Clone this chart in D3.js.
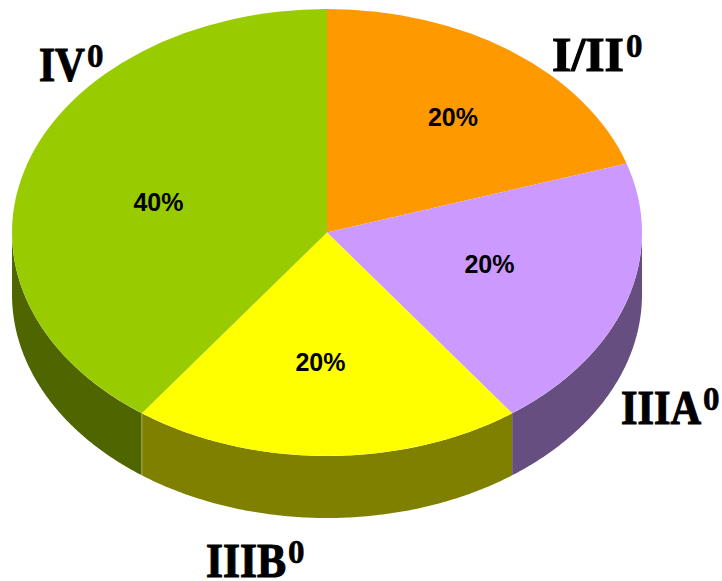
<!DOCTYPE html>
<html>
<head>
<meta charset="utf-8">
<script src="https://cdn.jsdelivr.net/npm/d3@7"></script>
<style>
  html, body { margin: 0; padding: 0; background: #fff; }
  svg { display: block; }
</style>
</head>
<body>
<svg id="chart" width="722" height="581"></svg>
<script>
// Stage shares, clockwise from twelve o'clock
const stages = ["I/II", "IIIA", "IIIB", "IV"];
const shares = [20, 20, 20, 40];
const superscripts = ["0", "0", "0", "0"];
const topColors = ["#ff9900", "#cc99ff", "#ffff00", "#99cc00"];
const wallColors = ["#805000", "#664e80", "#808000", "#4f6600"];

// Disc geometry for the tilted pie
const cx = 327, cy = 232.5, rx = 315, ry = 223.5, depth = 62;

// Text anchors and the widths the stage names are fitted to
const percentAt = [[453, 126], [489.5, 273], [320.5, 371], [158.5, 211]];
const stageAt = [[552, 71], [621, 424], [206, 577], [39, 81]];
const stageWidths = [72, 80, 80, 46];

const svg = d3.select("#chart");
const arcs = d3.pie().value(d => d).sort(null)(shares);

// Projects an angle (clockwise from north) onto the ellipse
const sx = d3.scaleLinear().domain([-1, 1]).range([cx - rx, cx + rx]);
const sy = d3.scaleLinear().domain([-1, 1]).range([cy - ry, cy + ry]);
const px = a => sx(Math.sin(a));
const py = a => sy(-Math.cos(a));

// Outer wall, only for the part of the rim facing the viewer
const wallPath = (a0, a1) => {
  const start = Math.max(a0, Math.PI / 2);
  const end = Math.min(a1, Math.PI * 1.5);
  if (end <= start) return null;
  const angles = d3.range(0, 121).map(i => start + (end - start) * i / 120);
  const rim = angles.map(a => [px(a), py(a)]);
  const lower = angles.slice().reverse().map(a => [px(a), py(a) + depth]);
  return d3.line()(rim.concat(lower)) + "Z";
};

svg.append("g").attr("class", "walls")
  .selectAll("path")
  .data(arcs)
  .join("path")
  .attr("d", d => wallPath(d.startAngle, d.endAngle))
  .attr("fill", (d, i) => wallColors[i]);

// Pale seam between the two wall faces on the left
const seamAngle = arcs[3].startAngle;
svg.append("line")
  .attr("x1", px(seamAngle)).attr("y1", py(seamAngle))
  .attr("x2", px(seamAngle)).attr("y2", py(seamAngle) + depth)
  .attr("stroke", "#a8a860").attr("stroke-width", 1);

// Top face: a circular pie squashed into an ellipse
const arcGen = d3.arc().innerRadius(0).outerRadius(rx);
svg.append("g").attr("class", "slices")
  .attr("transform", `translate(${cx},${cy}) scale(1,${ry / rx})`)
  .selectAll("path")
  .data(arcs)
  .join("path")
  .attr("d", arcGen)
  .attr("fill", (d, i) => topColors[i]);

// Percentage labels
svg.append("g").selectAll("text")
  .data(shares)
  .join("text")
  .attr("x", (d, i) => percentAt[i][0])
  .attr("y", (d, i) => percentAt[i][1])
  .attr("text-anchor", "middle")
  .attr("font-family", "'Liberation Sans', Arial, sans-serif")
  .attr("font-weight", "bold")
  .attr("font-size", 25)
  .attr("fill", "#000")
  .text(d => d + "%");

// Stage labels: the name is squeezed to its fitted width, the grade mark is raised after it
const serif = "'Liberation Serif', 'DejaVu Serif', serif";
const stageGroups = svg.append("g").selectAll("g")
  .data(stages)
  .join("g")
  .attr("transform", (d, i) => `translate(${stageAt[i][0]},${stageAt[i][1]})`);

stageGroups.append("text")
  .attr("font-family", serif)
  .attr("font-weight", "bold")
  .attr("font-size", 49)
  .attr("fill", "#000")
  .attr("stroke", "#000")
  .attr("stroke-width", 1.2)
  .text(d => d)
  .attr("transform", function (d, i) {
    return `scale(${stageWidths[i] / this.getComputedTextLength()},1)`;
  });

stageGroups.append("text")
  .attr("x", (d, i) => stageWidths[i] + 2)
  .attr("y", -14)
  .attr("font-family", serif)
  .attr("font-weight", "bold")
  .attr("font-size", 33)
  .attr("fill", "#000")
  .attr("stroke", "#000")
  .attr("stroke-width", 0.6)
  .text((d, i) => superscripts[i]);
</script>
</body>
</html>
